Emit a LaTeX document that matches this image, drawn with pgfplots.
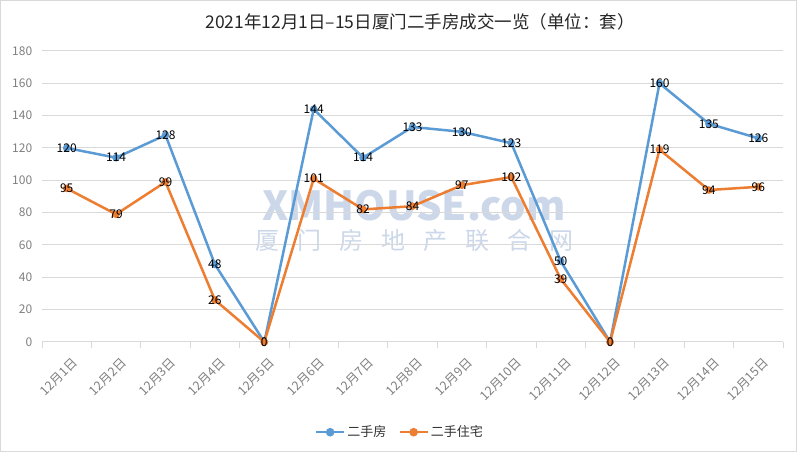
\documentclass[border=0pt]{standalone}
\usepackage{fontspec}
\setmainfont{Noto Sans CJK SC}
\usepackage{pgfplots}
\pgfplotsset{compat=1.18}
\definecolor{cblue}{HTML}{5B9BD5}
\definecolor{corange}{HTML}{ED7D31}
\definecolor{cgrid}{HTML}{D9D9D9}
\definecolor{ctick}{HTML}{808080}
\definecolor{cwm}{HTML}{CCD8E9}
\begin{document}
\begin{tikzpicture}[x=1pt,y=1pt]
\draw[cgrid, line width=1pt, fill=white] (0.5,0.5) rectangle (796.5,451.5);
\node[cwm, font=\fontsize{40}{40}\selectfont\bfseries] at (414,246) {XMHOUSE.com};
\node[cwm, font=\fontsize{24}{24}\selectfont] at (414,212) {厦\hspace{18pt}门\hspace{18pt}房\hspace{18pt}地\hspace{18pt}产\hspace{18pt}联\hspace{18pt}合\hspace{18pt}网};
\begin{axis}[
  at={(42pt,110pt)}, anchor=south west,
  scale only axis, width=741pt, height=291pt,
  xmin=0.5, xmax=15.5, ymin=0, ymax=180,
  ytick={0,20,...,180},
  xtick={1,...,15},
  xticklabels={12月1日,12月2日,12月3日,12月4日,12月5日,12月6日,12月7日,12月8日,12月9日,12月10日,12月11日,12月12日,12月13日,12月14日,12月15日},
  minor xtick={0.5,1.5,...,15.5},
  xtick pos=lower, ytick pos=left,
  major x tick style={draw=none},
  minor x tick style={cgrid, line width=1pt},
  minor tick length=6pt,
  tick align=outside,
  ymajorgrids, grid style={cgrid, line width=1pt},
  major y tick style={draw=none},
  axis line style={draw=none},
  /pgf/number format/assume math mode=true,
  ticklabel style={font=\fontsize{12}{13}\selectfont, text=ctick},
  yticklabel style={xshift=-2pt},
  xticklabel style={rotate=45, anchor=north east, yshift=-7pt, xshift=-1pt, font=\fontsize{12.5}{13}\selectfont},
  nodes near coords,
  nodes near coords align={center},
  every node near coord/.append style={font=\fontsize{12}{12}\selectfont, text=black, anchor=center},
  legend style={at={(0.483,-0.31)}, anchor=center, draw=none, legend columns=2, font=\fontsize{13}{14}\selectfont, text=black!80, /tikz/every even column/.append style={column sep=10pt}},
  legend image code/.code={\draw[#1, mark=none] (0pt,0pt) -- (28pt,0pt); \fill[#1] (14pt,0pt) circle (3pt);},
  clip=false,
]
\draw[cgrid, line width=1pt] (axis cs:0.5,0) -- (axis cs:15.5,0);
\addplot[cblue, line width=2.5pt, mark=*, mark size=2.5pt] coordinates {
(1,120) (2,114) (3,128) (4,48) (5,0) (6,144) (7,114) (8,133) (9,130) (10,123) (11,50) (12,0) (13,160) (14,135) (15,126)};
\addlegendentry{二手房}
\addplot[corange, line width=2.5pt, mark=*, mark size=2.5pt] coordinates {
(1,95) (2,79) (3,99) (4,26) (5,0) (6,101) (7,82) (8,84) (9,97) (10,102) (11,39) (12,0) (13,119) (14,94) (15,96)};
\addlegendentry{二手住宅}
\end{axis}
\node[font=\fontsize{17.5}{19}\selectfont, text=black!85] at (420,430) {2021年12月1日–15日厦门二手房成交一览（单位：套）};
\end{tikzpicture}
\end{document}
